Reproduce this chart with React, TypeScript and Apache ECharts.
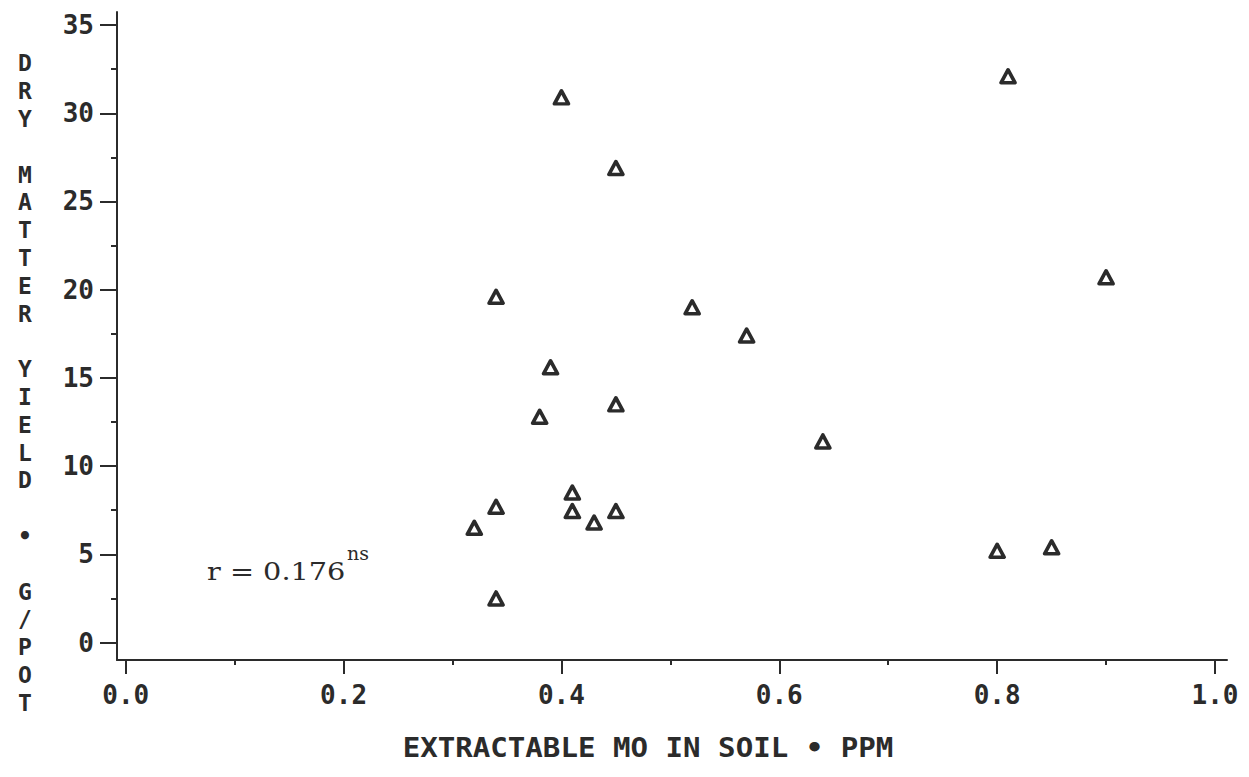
import React, { useEffect, useRef } from "react";
import * as echarts from "echarts";

// Extractable Mo in soil (ppm)
const moPpm = [0.40, 0.81, 0.45, 0.90, 0.34, 0.52, 0.57, 0.39, 0.45, 0.38, 0.64, 0.41, 0.34, 0.41, 0.45, 0.43, 0.32, 0.80, 0.85, 0.34];
// Dry matter yield (g/pot)
const yieldG = [30.9, 32.1, 26.9, 20.7, 19.6, 19.0, 17.4, 15.6, 13.5, 12.8, 11.4, 8.5, 7.7, 7.45, 7.45, 6.8, 6.5, 5.2, 5.4, 2.5];

const xMajorTicks = [0, 0.2, 0.4, 0.6, 0.8, 1.0];
const xMinorTicks = [0.1, 0.3, 0.5, 0.7, 0.9];
const yMajorTicks = [0, 5, 10, 15, 20, 25, 30, 35];
const yMinorTicks = [2.5, 7.5, 12.5, 17.5, 22.5, 27.5, 32.5];

const xTitle = "EXTRACTABLE MO IN SOIL • PPM";
const yTitle = "DRY MATTER YIELD • G/POT";
const rText = "r = 0.176";
const rSup = "ns";

const INK = "#2b2b2b";
const MONO = "'DejaVu Sans Mono', monospace";

export default function App() {
  const ref = useRef<HTMLDivElement>(null);
  useEffect(() => {
    if (!ref.current) return;
    const chart = echarts.init(ref.current, undefined, { renderer: "svg" });
    const xMin = -0.008, xMax = 1.011, yMin = -0.99, yMax = 35.74;
    const option: any = {
      animation: false,
      backgroundColor: "#ffffff",
      grid: { left: 117, right: 22, top: 12, bottom: 117, containLabel: false, outerBoundsMode: "none" },
      xAxis: [
        {
          type: "value", min: xMin, max: xMax, position: "bottom",
          axisLine: { show: true, onZero: false, lineStyle: { color: INK, width: 2 } },
          axisTick: { show: true, customValues: xMajorTicks, length: 14, lineStyle: { color: INK, width: 2 } },
          axisLabel: {
            show: true, customValues: xMajorTicks, margin: 22,
            formatter: (v: number) => v.toFixed(1),
            color: INK, fontFamily: MONO, fontSize: 26, fontWeight: "bold",
          },
          splitLine: { show: false },
        },
        {
          type: "value", min: xMin, max: xMax, position: "bottom",
          axisLine: { show: false, onZero: false },
          axisTick: { show: true, customValues: xMinorTicks, length: 5, lineStyle: { color: INK, width: 2 } },
          axisLabel: { show: false },
          splitLine: { show: false },
        },
      ],
      yAxis: [
        {
          type: "value", min: yMin, max: yMax, position: "left",
          axisLine: { show: true, onZero: false, lineStyle: { color: INK, width: 2 } },
          axisTick: { show: true, customValues: yMajorTicks, length: 17, lineStyle: { color: INK, width: 2 } },
          axisLabel: {
            show: true, customValues: yMajorTicks, margin: 23,
            formatter: (v: number) => String(v),
            color: INK, fontFamily: MONO, fontSize: 26, fontWeight: "bold",
          },
          splitLine: { show: false },
        },
        {
          type: "value", min: yMin, max: yMax, position: "left",
          axisLine: { show: false, onZero: false },
          axisTick: { show: true, customValues: yMinorTicks, length: 6, lineStyle: { color: INK, width: 2 } },
          axisLabel: { show: false },
          splitLine: { show: false },
        },
      ],
      series: [
        {
          type: "scatter",
          xAxisIndex: 0,
          yAxisIndex: 0,
          symbol: "triangle",
          symbolSize: [14, 13],
          itemStyle: { color: "#ffffff", borderColor: INK, borderWidth: 3.6, borderJoin: "round", opacity: 1 },
          data: moPpm.map((x, i) => [x, yieldG[i]]),
        },
      ],
      graphic: [
        {
          type: "text", x: 648, y: 748, scaleX: 1.12,
          style: { text: xTitle, fill: INK, font: `bold 26px ${MONO}`, textAlign: "center", textVerticalAlign: "middle" },
        },
        {
          type: "text", x: 25, y: 383,
          style: {
            text: yTitle.split("").join("\n"), fill: INK, font: `bold 23px ${MONO}`,
            lineHeight: 27.8, textAlign: "center", textVerticalAlign: "middle",
          },
        },
        {
          type: "text", x: 207, y: 571, scaleX: 1.15,
          style: { text: rText, fill: INK, font: `25px 'DejaVu Serif', serif`, textAlign: "left", textVerticalAlign: "middle" },
        },
        {
          type: "text", x: 347, y: 553,
          style: { text: rSup, fill: INK, font: `19px 'DejaVu Serif', serif`, textAlign: "left", textVerticalAlign: "middle" },
        },
      ],
    };
    chart.setOption(option);
    return () => chart.dispose();
  }, []);
  return (
    <div
      ref={ref}
      style={{ position: "fixed", left: 0, top: 0, width: 1249, height: 777, background: "#fff" }}
    />
  );
}
